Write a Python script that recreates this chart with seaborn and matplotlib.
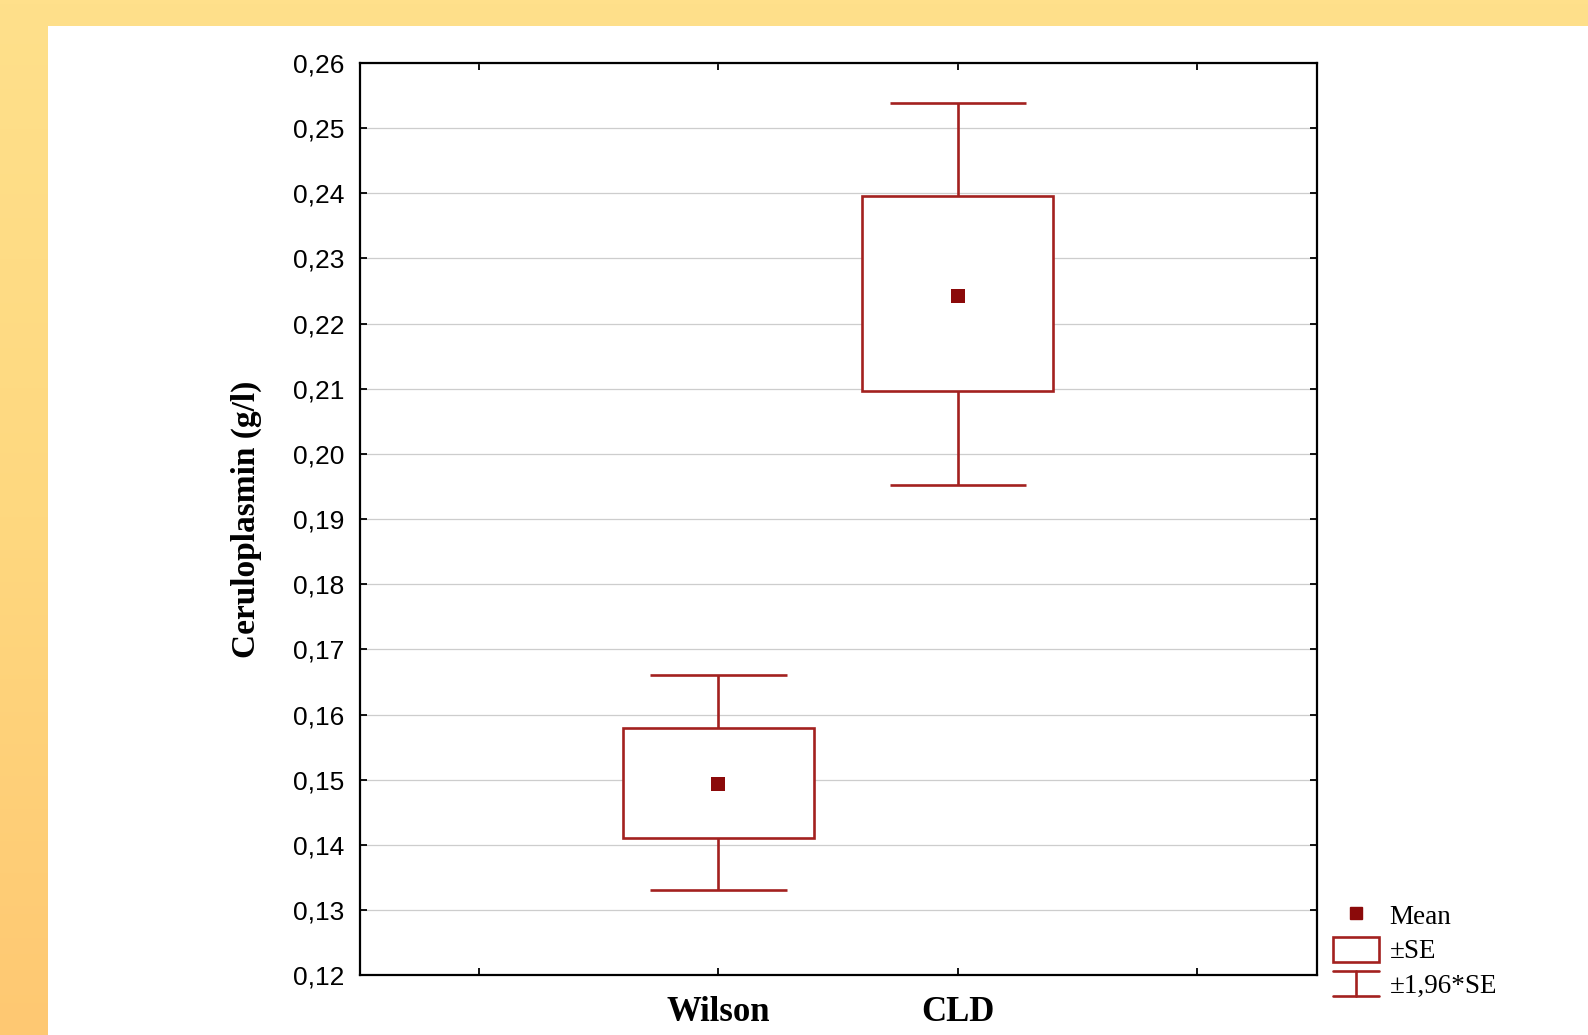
import matplotlib
matplotlib.use('Agg')
import matplotlib.pyplot as plt
import seaborn as sns
import pandas as pd
import numpy as np
from matplotlib.patches import Rectangle
from matplotlib.lines import Line2D
from matplotlib.legend_handler import HandlerBase
from matplotlib.colors import LinearSegmentedColormap
from matplotlib.ticker import FuncFormatter, MultipleLocator

# values
groups = ['Wilson', 'CLD']
means = [0.1494, 0.2243]
se_low = [0.1411, 0.2096]
se_high = [0.1579, 0.2395]
ci_low = [0.1331, 0.1952]
ci_high = [0.1660, 0.2539]

legend_labels = ['Mean', '\u00b1SE', '\u00b11,96*SE']

box_color = '#A3211F'
mean_color = '#8B0A0A'

df = pd.DataFrame({'group': groups, 'pos': np.arange(1, len(groups) + 1),
                   'mean': means, 'se_low': se_low, 'se_high': se_high,
                   'ci_low': ci_low, 'ci_high': ci_high})

sns.set_style('ticks')
plt.rcParams['font.family'] = ['Liberation Sans', 'DejaVu Sans']
plt.rcParams['text.color'] = 'black'
plt.rcParams['axes.labelcolor'] = 'black'
plt.rcParams['xtick.color'] = 'black'
plt.rcParams['ytick.color'] = 'black'

fig = plt.figure(figsize=(15.88, 10.35), dpi=100)

# yellow gradient background with white panel
bg = fig.add_axes([0, 0, 1, 1], zorder=-10)
grad = np.linspace(0, 1, 256).reshape(-1, 1)
cmap = LinearSegmentedColormap.from_list('bg', ['#FFE08B', '#FED87F', '#FEC872'])
bg.imshow(grad, aspect='auto', cmap=cmap, extent=[0, 1, 0, 1], origin='upper')
bg.add_patch(Rectangle((48 / 1588, 0), 1, 1 - 26 / 1035, transform=bg.transAxes,
                       facecolor='white', edgecolor='none'))
bg.set_xlim(0, 1)
bg.set_ylim(0, 1)
bg.axis('off')

ax = fig.add_axes([0.2264, 0.0577, 0.8291 - 0.2264, 0.9393 - 0.0577])
ax.set_facecolor('white')

box_w = 0.8
cap_w = 0.57
for _, r in df.iterrows():
    # whiskers (±1,96*SE)
    ax.vlines(r['pos'], r['ci_low'], r['se_low'], color=box_color, lw=1.9, zorder=3)
    ax.vlines(r['pos'], r['se_high'], r['ci_high'], color=box_color, lw=1.9, zorder=3)
    ax.hlines([r['ci_low'], r['ci_high']], r['pos'] - cap_w / 2, r['pos'] + cap_w / 2,
              color=box_color, lw=1.9, zorder=3)
    # ±SE box
    ax.add_patch(Rectangle((r['pos'] - box_w / 2, r['se_low']), box_w,
                           r['se_high'] - r['se_low'], facecolor='white',
                           edgecolor=box_color, lw=1.9, zorder=3))

sns.scatterplot(data=df, x='pos', y='mean', marker='s', s=110, color=mean_color,
                edgecolor=mean_color, linewidth=0, zorder=4, ax=ax, legend=False)

ax.set_xlim(-0.5, 3.5)
ax.set_ylim(0.12, 0.26)
ax.yaxis.set_major_locator(MultipleLocator(0.01))
ax.yaxis.set_major_formatter(FuncFormatter(lambda v, p: f'{v:.2f}'.replace('.', ',')))
ax.set_xticks(np.arange(0, 4))
ax.set_xticklabels([''] + groups + [''], fontfamily='Liberation Serif',
                   fontweight='bold', fontsize=25)
ax.grid(axis='y', color='#CDCDCD', lw=0.9)
ax.set_axisbelow(True)
ax.tick_params(axis='both', direction='in', length=5, width=1.3, color='black',
               top=True, right=True, labelcolor='black')
ax.tick_params(axis='y', labelsize=19, pad=11)
ax.tick_params(axis='x', pad=15)
for s in ax.spines.values():
    s.set_color('black')
    s.set_linewidth(1.6)

ax.set_xlabel('')
ax.set_ylabel('Ceruloplasmin (g/l)', fontfamily='Liberation Serif', fontweight='bold',
              fontsize=24, labelpad=22)


class WhiskerHandler(HandlerBase):
    def create_artists(self, legend, orig_handle, xdescent, ydescent, width, height,
                       fontsize, trans):
        x0 = -xdescent
        x1 = x0 + width
        y0 = -ydescent
        y1 = y0 + height
        xm = (x0 + x1) / 2
        kw = dict(color=box_color, lw=1.9, transform=trans)
        return [Line2D([x0, x1], [y1, y1], **kw), Line2D([x0, x1], [y0, y0], **kw),
                Line2D([xm, xm], [y0, y1], **kw)]


h_mean = Line2D([], [], marker='s', linestyle='none', color=mean_color, markersize=9)
h_se = Rectangle((0, 0), 1, 1, facecolor='white', edgecolor=box_color, lw=1.9)
h_ci = object()
leg = ax.legend([h_mean, h_se, h_ci], legend_labels,
                handler_map={object: WhiskerHandler()},
                loc='lower left', bbox_to_anchor=(1.017, -0.026), frameon=False,
                prop={'family': 'Liberation Serif', 'size': 19.5},
                handlelength=1.7, handleheight=1.05, handletextpad=0.4,
                labelspacing=0.25, borderpad=0, borderaxespad=0)

fig.savefig('out.png', dpi=100)
